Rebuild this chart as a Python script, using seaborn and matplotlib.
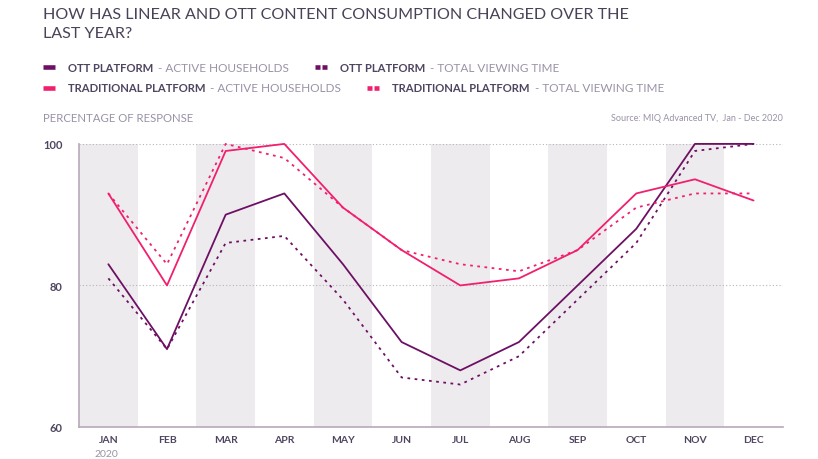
import numpy as np
import pandas as pd
import seaborn as sns
import matplotlib.pyplot as plt
from matplotlib.lines import Line2D

months = ['JAN', 'FEB', 'MAR', 'APR', 'MAY', 'JUN', 'JUL', 'AUG', 'SEP', 'OCT', 'NOV', 'DEC']
ott_active = [83, 71, 90, 93, 83, 72, 68, 72, 80, 88, 100, 100]
ott_viewing = [81, 71, 86, 87, 78, 67, 66, 70, 78, 86, 99, 100]
trad_active = [93, 80, 99, 100, 91, 85, 80, 81, 85, 93, 95, 92]
trad_viewing = [93, 83, 100, 98, 91, 85, 83, 82, 85, 91, 93, 93]
y_ticks = [60, 80, 100]

purple = '#6d1064'
pink = '#f0206e'
dark_txt = '#4f4560'
light_txt = '#9a92a6'

df = pd.DataFrame({'month': list(range(12)) * 4,
                   'value': ott_active + ott_viewing + trad_active + trad_viewing,
                   'series': ['ott_active'] * 12 + ['ott_viewing'] * 12 + ['trad_active'] * 12 + ['trad_viewing'] * 12})

sns.set_style('white')
plt.rcParams['font.family'] = ['Lato', 'DejaVu Sans']

fig = plt.figure(figsize=(8.18, 4.6), dpi=100)
ax = fig.add_axes([0.0966, 0.0696, 0.8605, 0.6154])

# shaded bands behind every other month
for i in range(0, 12, 2):
    ax.axvspan(i - 0.5, i + 0.5, color='#eeebee', zorder=0, lw=0)

styles = {'ott_active': (purple, '-'), 'ott_viewing': (purple, (0, (1.5, 2.5))),
          'trad_active': (pink, '-'), 'trad_viewing': (pink, (0, (1.5, 2.5)))}
for name, (col, ls) in styles.items():
    sub = df[df['series'] == name]
    sns.lineplot(data=sub, x='month', y='value', ax=ax, color=col, linestyle=ls,
                 lw=1.3, clip_on=False, zorder=3)

ax.set_xlim(-0.5, 11.5)
ax.set_ylim(60, 100)
ax.set_yticks(y_ticks)
ax.set_yticklabels([str(v) for v in y_ticks], fontsize=8, fontweight='bold', color=dark_txt)
ax.set_xticks(range(12))
ax.set_xticklabels(months, fontsize=7.5, fontweight='bold', color=dark_txt)
ax.tick_params(axis='x', length=0, pad=6)
ax.tick_params(axis='y', length=0, pad=12)
ax.set_xlabel('')
ax.set_ylabel('')
for v in [80, 100]:
    ax.axhline(v, color='#b8b2bc', lw=0.8, ls=(0, (1, 2)), zorder=1)
for s in ['top', 'right']:
    ax.spines[s].set_visible(False)
ax.spines['left'].set_color('#b6a9b8')
ax.spines['bottom'].set_color('#b6a9b8')
ax.spines['left'].set_linewidth(1.2)
ax.spines['bottom'].set_linewidth(1.2)

fig.text(0.1305, 0.011, '2020', fontsize=7.5, color=light_txt, ha='center', va='center')

fig.text(43 / 818, 1 - 8 / 460, 'HOW HAS LINEAR AND OTT CONTENT CONSUMPTION CHANGED OVER THE\nLAST YEAR?',
         fontsize=11.6, color='#4a4258', va='top', linespacing=1.45)

fig.text(43 / 818, 1 - 119 / 460, 'PERCENTAGE OF RESPONSE', fontsize=8.2, color=light_txt, va='center')
fig.text(783 / 818, 1 - 119 / 460, 'Source: MIQ Advanced TV,  Jan - Dec 2020', fontsize=6.5,
         color=light_txt, va='center', ha='right')

# legend built from text pieces
fig.canvas.draw()
renderer = fig.canvas.get_renderer()


def legend_item(x_px, y_px, col, dashed, bold, light):
    y = 1 - y_px / 460
    if dashed:
        for dx in [0, 7]:
            fig.add_artist(Line2D([(x_px + dx) / 818, (x_px + dx + 5) / 818], [y, y], color=col, lw=3.3,
                                  solid_capstyle='butt', transform=fig.transFigure))
    else:
        fig.add_artist(Line2D([x_px / 818, (x_px + 12) / 818], [y, y], color=col, lw=3.3,
                              solid_capstyle='butt', transform=fig.transFigure))
    t = fig.text((x_px + 25) / 818, y, bold, fontsize=8.1, fontweight='bold', color=dark_txt, va='center')
    bb = t.get_window_extent(renderer)
    t2 = fig.text((bb.x1 + 5) / 818, y, '- ' + light, fontsize=8.5, color=light_txt, va='center')
    return t2.get_window_extent(renderer).x1


end1 = legend_item(43, 68, purple, False, 'OTT PLATFORM', 'ACTIVE HOUSEHOLDS')
legend_item(end1 + 26, 68, purple, True, 'OTT PLATFORM', 'TOTAL VIEWING TIME')
end2 = legend_item(43, 89, pink, False, 'TRADITIONAL PLATFORM', 'ACTIVE HOUSEHOLDS')
legend_item(end2 + 26, 89, pink, True, 'TRADITIONAL PLATFORM', 'TOTAL VIEWING TIME')

fig.savefig('out.png', dpi=100)
